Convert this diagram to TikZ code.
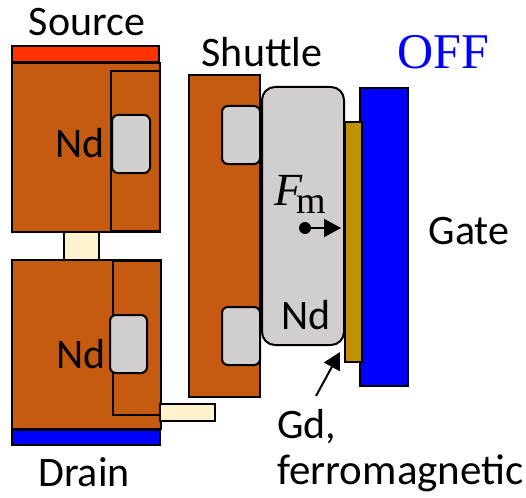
\documentclass[tikz,border=0pt]{standalone}
\usepackage{fontspec}
\setmainfont{Carlito}
\newfontfamily\serifish{Liberation Serif}
\usetikzlibrary{fit,arrows.meta}
\definecolor{metalc}{HTML}{C55A11}
\definecolor{padc}{HTML}{D0CECE}
\definecolor{linkc}{HTML}{FFF2CC}
\definecolor{redc}{HTML}{FF3300}
\definecolor{goldc}{HTML}{BF9000}
\definecolor{bluec}{HTML}{0000FF}
\tikzset{
  x=1pt,y=-1pt,
  part/.style={draw=black,line width=2pt,inner sep=0pt,outer sep=0pt},
  metal/.style={part,fill=metalc},
  pad/.style={part,fill=padc,rounded corners=6pt},
  link/.style={part,fill=linkc},
  txt/.style={font=\fontsize{42}{48}\selectfont,text=black,inner sep=0pt},
  arrowline/.style={line width=2pt,-{Triangle[length=17pt,width=18pt]}},
}
\newcommand{\blk}[6]{\node[#6,fit={(#2,#3) (#4,#5)}] (#1) {};}
\begin{document}
\begin{tikzpicture}
\useasboundingbox (0,0) rectangle (526,497);
% source block
\blk{srccontact}{12}{46}{159}{62}{part,fill=redc}
\blk{srcbody}{12}{63}{160}{232}{metal}
\blk{srcinner}{111}{71}{160}{231}{metal}
\blk{srcpad}{112}{115}{150}{173}{pad}
% vertical link
\blk{linkv}{64}{232}{99}{260}{link}
% drain block
\blk{drnbody}{12}{260}{161}{429}{metal}
\blk{drninner}{113}{261}{161}{415}{metal}
\blk{drnpad}{110}{315}{147}{373}{pad}
\blk{drncontact}{12}{430}{160}{445}{part,fill=bluec}
\blk{linkh}{160}{404}{215}{421}{link}
% shuttle
\blk{shutbody}{189}{75}{260}{397}{metal}
\blk{shutpadA}{222}{106}{260}{164}{pad}
\blk{shutpadB}{222}{307}{260}{365}{pad}
\blk{shutnd}{262}{87}{344}{345}{part,fill=padc,rounded corners=13pt}
% gate stack
\blk{gate}{360}{88}{408}{386}{part,fill=bluec}
\blk{gd}{345}{122}{362}{362}{part,fill=goldc}
% labels
\node[txt] (tsource) at (87,22) {Source};
\node[txt] (tdrain) at (84,472) {Drain};
\node[txt] (tshuttle) at (262,52) {Shuttle};
\node[txt] (tgate) at (469,231) {Gate};
\node[txt] (ndA) at (80,143) {Nd};
\node[txt] (ndB) at (81,354) {Nd};
\node[txt] (ndC) at (306,315) {Nd};
\node[txt,anchor=base west] (tgd) at (277,438) {Gd,};
\node[txt,anchor=base west,font=\fontsize{43}{48}\selectfont] (tferro) at (277,484) {ferromagnetic};
\node[inner sep=0pt,text=bluec,font=\serifish\fontsize{50}{56}\selectfont] (toff) at (443,52) {OFF};
\node[inner sep=0pt,text=black,anchor=base west,font=\serifish\fontsize{46}{50}\selectfont] (tfm) at (274,205) {\textit{F}\kern-6pt\raisebox{-8pt}{\fontsize{38}{42}\selectfont m}};
% force
\node[circle,fill=black,inner sep=0pt,minimum size=12pt] (fdot) at (305,228) {};
\coordinate (ftip) at (341,228);
\draw[arrowline] (fdot) -- (ftip);
% callout
\coordinate (ctail) at (316,396);
\coordinate (chead) at (340,352);
\draw[arrowline] (ctail) -- (chead);
\end{tikzpicture}
\end{document}
